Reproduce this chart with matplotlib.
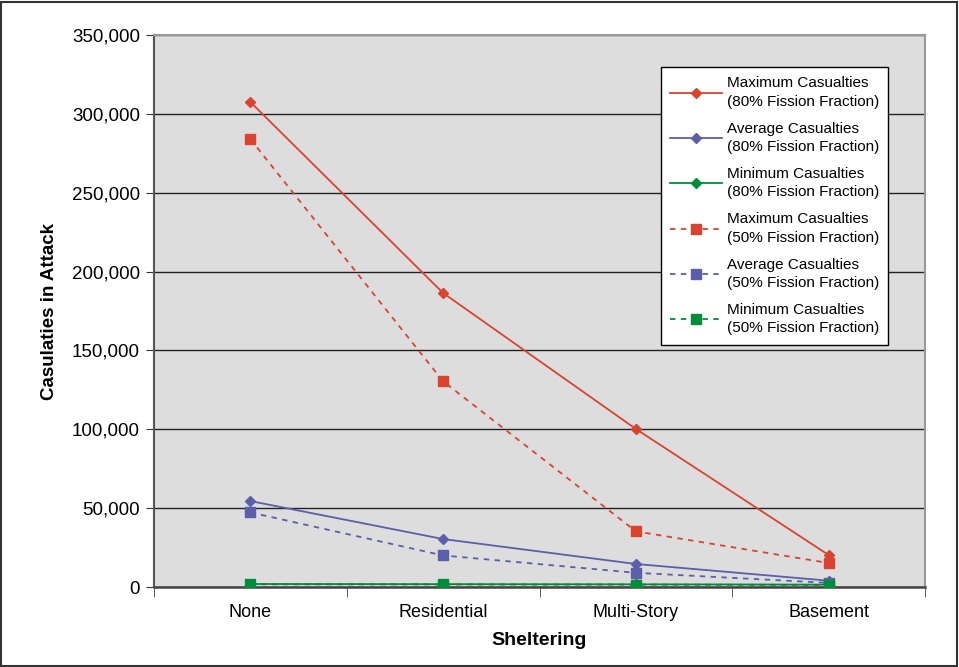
import matplotlib
matplotlib.use("Agg")
import matplotlib.pyplot as plt
from matplotlib.ticker import FuncFormatter, FixedLocator
from matplotlib.patches import Rectangle

categories = ["None", "Residential", "Multi-Story", "Basement"]
max_80 = [307500, 186400, 100200, 20300]
avg_80 = [54500, 30400, 14600, 4000]
min_80 = [1900, 1800, 1700, 1500]
max_50 = [284000, 130400, 35300, 15200]
avg_50 = [47300, 20000, 9000, 2600]
min_50 = [1700, 1600, 1500, 1300]
labels = [
    "Maximum Casualties\n(80% Fission Fraction)",
    "Average Casualties\n(80% Fission Fraction)",
    "Minimum Casualties\n(80% Fission Fraction)",
    "Maximum Casualties\n(50% Fission Fraction)",
    "Average Casualties\n(50% Fission Fraction)",
    "Minimum Casualties\n(50% Fission Fraction)",
]

RED = "#D9432F"
BLUE = "#5B5EA8"
GREEN = "#008C3A"

plt.rcParams['font.family'] = ['Liberation Sans', 'DejaVu Sans']

fig = plt.figure(figsize=(9.59, 6.67), dpi=100)
ax = fig.add_axes([154/959, 80/667, 771/959, 552/667])
ax.set_facecolor("#DDDDDD")

x = list(range(len(categories)))
series = [
    (max_80, RED, "-", "D"),
    (avg_80, BLUE, "-", "D"),
    (min_80, GREEN, "-", "D"),
    (max_50, RED, (0, (3, 3)), "s"),
    (avg_50, BLUE, (0, (3, 3)), "s"),
    (min_50, GREEN, (0, (3, 3)), "s"),
]
for (vals, c, ls, m), lab in zip(series, labels):
    ms = 5.5 if m == "D" else 7
    ax.plot(x, vals, color=c, linestyle=ls, linewidth=1.3, marker=m,
            markersize=ms, markerfacecolor=c, markeredgecolor=c, label=lab,
            zorder=3)

ax.set_xlim(-0.5, 3.5)
ax.set_ylim(0, 350000)
ax.yaxis.set_major_locator(FixedLocator(range(0, 350001, 50000)))
ax.yaxis.set_major_formatter(FuncFormatter(lambda v, p: f"{int(v):,}"))
ax.grid(axis="y", color="#222222", linewidth=1.0, zorder=1)
ax.set_axisbelow(True)

ax.set_xticks(x)
ax.set_xticklabels(categories, fontsize=13)
ax.tick_params(axis="x", length=0, pad=12)
ax.set_xticks([-0.5, 0.5, 1.5, 2.5, 3.5], minor=True)
ax.tick_params(axis="x", which="minor", length=7, color="#444444", direction="out")
ax.tick_params(axis="y", labelsize=13.5, length=6, color="#333333", direction="out", pad=4)

for s in ["top", "right"]:
    ax.spines[s].set_color("#999999")
    ax.spines[s].set_linewidth(1.5)
ax.spines["left"].set_color("#555555")
ax.spines["left"].set_linewidth(1.5)
ax.spines["bottom"].set_color("#444444")
ax.spines["bottom"].set_linewidth(1.8)

ax.set_ylabel("Casulaties in Attack", fontsize=13.5, fontweight="bold", labelpad=10)
ax.set_xlabel("Sheltering", fontsize=14, fontweight="bold", labelpad=8)

leg = ax.legend(loc="upper left", bbox_to_anchor=((661-154)/771, (587-67)/552),
                fontsize=11, frameon=True, fancybox=False, handlelength=3.4,
                handletextpad=0.3, labelspacing=0.85, borderpad=0.6,
                borderaxespad=0)
for t in leg.get_texts():
    t.set_linespacing(1.4)
leg.get_frame().set_edgecolor("black")
leg.get_frame().set_linewidth(1.0)
leg.get_frame().set_facecolor("white")
leg.get_frame().set_alpha(1)

fig.patches.append(Rectangle((1/959, 1/667), 956/959, 664/667, transform=fig.transFigure,
                             fill=False, edgecolor="#333333", linewidth=1.5))

fig.savefig("out.png", dpi=100)
